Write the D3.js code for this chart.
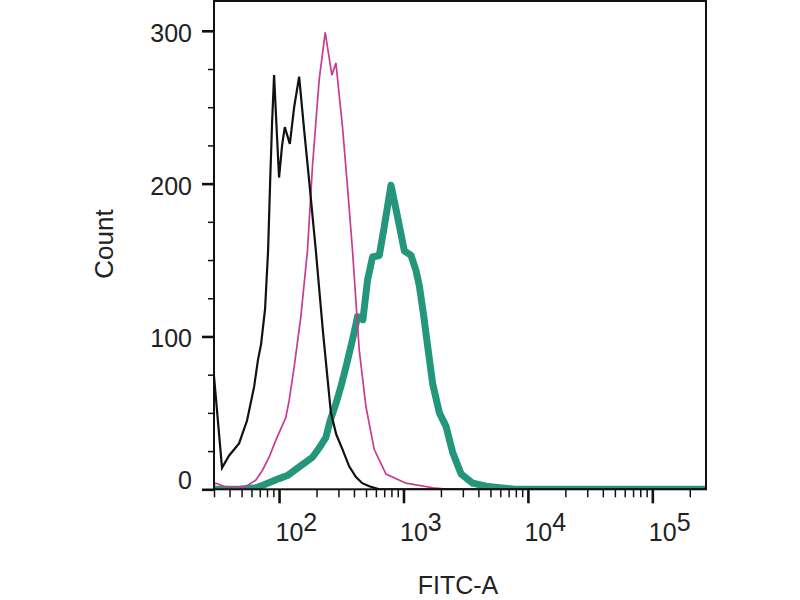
<!DOCTYPE html>
<html>
<head>
<meta charset="utf-8">
<script src="https://cdn.jsdelivr.net/npm/d3@7"></script>
<style>
  body { margin: 0; background: #fff; }
  svg text { font-family: "Liberation Sans", Arial, sans-serif; fill: #222; }
</style>
</head>
<body>
<script>
// histogram values: [FITC-A intensity, count]
var unstained = [
  [30, 74], [34.8, 14], [39.6, 22], [47.7, 30], [55.3, 45], [63, 67], [67.8, 85],
  [71.7, 95], [77.2, 118], [81.6, 156], [84.7, 200], [87.9, 240], [91.2, 271],
  [96.4, 230], [100, 204], [105.8, 225], [111.2, 237], [122.1, 226], [132.2, 250],
  [145, 270], [159.1, 235], [174.5, 202], [197.6, 156], [226, 102], [261, 50],
  [288, 36], [324, 26], [366, 15], [415, 8], [466, 4], [531, 2], [639, 0], [270000, 0]
];
var isotype = [
  [30, 3], [31.1, 4], [36.1, 2], [45.1, 1], [54.3, 2], [65, 6], [73, 12], [83.2, 21],
  [94.1, 32], [113.3, 47], [120.5, 58], [132.2, 80], [149.7, 113], [169.1, 156],
  [185.5, 211], [210.1, 268], [234.9, 299], [265.9, 271], [286.3, 279], [323.6, 237],
  [353.1, 200], [389.5, 156], [441, 91], [499.4, 54], [582.4, 26], [723.4, 10],
  [1048, 4], [1717, 1], [2339, 0], [270000, 0]
];
var stained = [
  [30, 0], [47.7, 0], [65, 1], [75.8, 3], [100, 7], [116.7, 9], [136.4, 13],
  [185.5, 21], [210, 27], [237.8, 34], [257.5, 45], [286.3, 56], [316, 68],
  [344.7, 80], [389.5, 98], [414.9, 108], [427, 113], [472, 111], [514.4, 137],
  [564.3, 152], [639.1, 153], [701.3, 172], [793.8, 199], [897.4, 178], [1016, 156],
  [1150, 153], [1262, 143], [1342, 133], [1445, 115], [1556, 95], [1717, 69],
  [1944, 50], [2201, 41], [2488, 24], [2906, 10], [3603, 4], [4618, 2], [5910, 1],
  [7808, 0], [270000, 0]
];

var xDecades = [100, 1000, 10000, 100000];
var yMajor = [0, 100, 200, 300];
var yMinor = [25, 50, 75, 125, 150, 175, 225, 250, 275];

var plotLeft = 214, plotRight = 706, plotTop = 1, plotBottom = 489.3;

var svg = d3.select("body").append("svg")
    .attr("width", 800)
    .attr("height", 600);

var x = d3.scaleLog().domain([30, 270000]).range([plotLeft, plotRight]);
var y = d3.scaleLinear().domain([0, 319.5]).range([plotBottom, plotTop]);

// clip so the curves sit inside the frame
svg.append("clipPath").attr("id", "plotclip")
  .append("rect")
    .attr("x", plotLeft).attr("y", plotTop)
    .attr("width", plotRight - plotLeft).attr("height", plotBottom - plotTop);

var line = d3.line()
    .x(function(d) { return x(d[0]); })
    .y(function(d) { return y(d[1]); });

var plot = svg.append("g").attr("clip-path", "url(#plotclip)");

plot.append("path").datum(stained)
    .attr("d", line).attr("fill", "none")
    .attr("stroke", "#23967b").attr("stroke-width", 7)
    .attr("stroke-linejoin", "round");
plot.append("path").datum(isotype)
    .attr("d", line).attr("fill", "none")
    .attr("stroke", "#c93a92").attr("stroke-width", 1.7);
plot.append("path").datum(unstained)
    .attr("d", line).attr("fill", "none")
    .attr("stroke", "#111").attr("stroke-width", 2.2);

// frame
svg.append("rect")
    .attr("x", plotLeft).attr("y", plotTop)
    .attr("width", plotRight - plotLeft).attr("height", plotBottom - plotTop)
    .attr("fill", "none").attr("stroke", "#111").attr("stroke-width", 2);

// y axis, major + minor ticks
var yAxis = d3.axisLeft(y).tickValues(yMajor).tickSize(12).tickSizeOuter(0).tickPadding(10);
var gy = svg.append("g").attr("transform", "translate(" + plotLeft + ",0)").call(yAxis);
gy.select(".domain").remove();
gy.selectAll(".tick line").attr("stroke", "#111").attr("stroke-width", 2.6);
gy.selectAll(".tick text")
    .attr("font-size", 25)
    .attr("dy", function(d) { return d == 0 ? "-0.05em" : "0.42em"; });

var gyMinor = svg.append("g").attr("transform", "translate(" + plotLeft + ",0)")
    .call(d3.axisLeft(y).tickValues(yMinor).tickSize(6).tickFormat(""));
gyMinor.select(".domain").remove();
gyMinor.selectAll(".tick line").attr("stroke", "#111").attr("stroke-width", 1.5);

// x axis: minor ticks 2..9 per decade
var xMinor = [];
[10, 100, 1000, 10000, 100000].forEach(function(dec) {
    for (var k = 2; k <= 9; k++) {
        var v = dec * k;
        if (v >= 30 && v <= 270000) xMinor.push(v);
    }
});

var gxMinor = svg.append("g").attr("transform", "translate(0," + plotBottom + ")")
    .call(d3.axisBottom(x).tickValues(xMinor).tickSize(8).tickFormat(""));
gxMinor.select(".domain").remove();
gxMinor.selectAll(".tick line").attr("stroke", "#111").attr("stroke-width", 1.5);

var gx = svg.append("g").attr("transform", "translate(0," + plotBottom + ")")
    .call(d3.axisBottom(x).tickValues(xDecades).tickSize(14).tickFormat(""));
gx.select(".domain").remove();
gx.selectAll(".tick line").attr("stroke", "#111").attr("stroke-width", 2.6);

// 10^n labels
var lab = gx.selectAll(".tick").append("text")
    .attr("x", -4)
    .attr("y", 541 - plotBottom)
    .attr("text-anchor", "start")
    .attr("font-size", 25)
    .attr("fill", "#222");
lab.append("tspan").text("10");
lab.append("tspan").attr("dy", -10)
    .text(function(d) { return Math.round(Math.log10(d)); });

// axis titles
svg.append("text")
    .attr("transform", "translate(113,244) rotate(-90)")
    .attr("text-anchor", "middle")
    .attr("font-size", 26)
    .text("Count");

svg.append("text")
    .attr("x", 458).attr("y", 594)
    .attr("text-anchor", "middle")
    .attr("font-size", 25)
    .text("FITC-A");
</script>
</body>
</html>
